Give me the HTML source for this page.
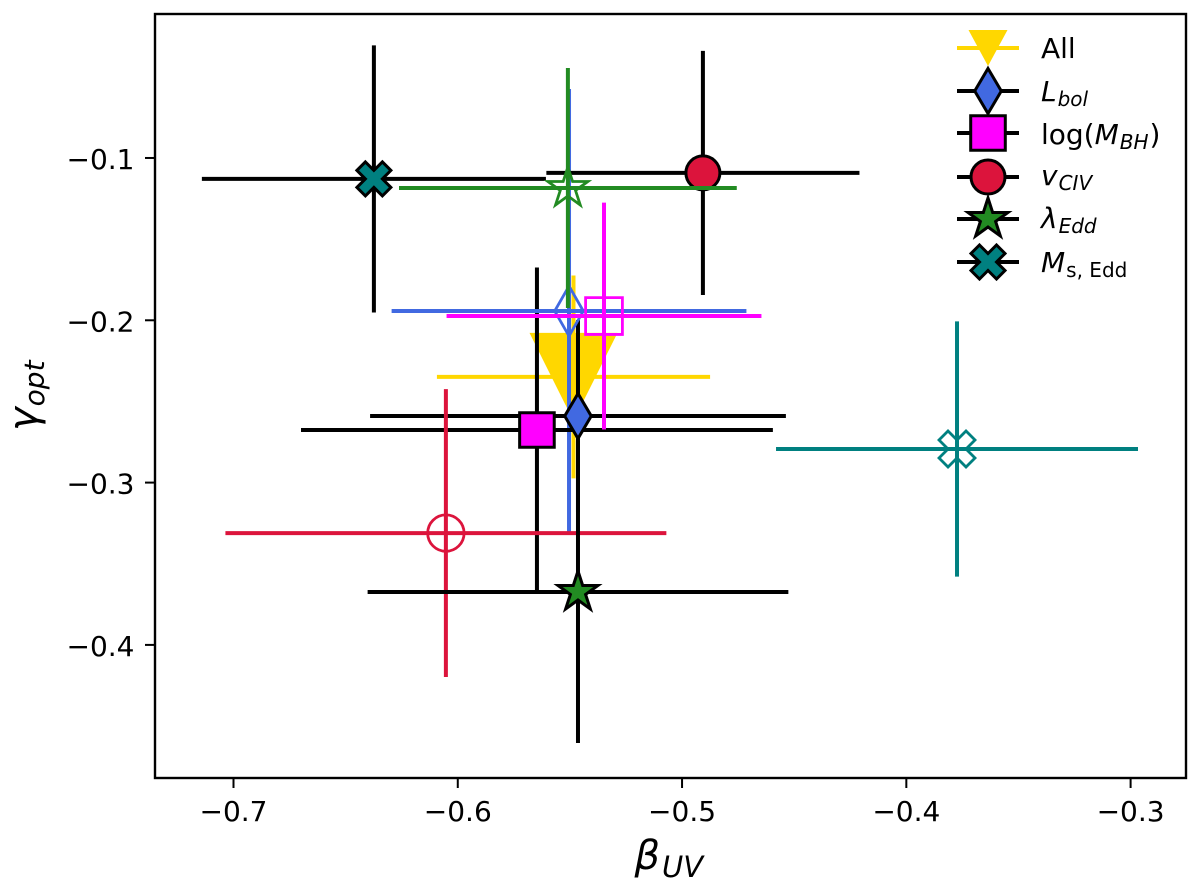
<!DOCTYPE html>
<html lang="en">
<head>
<meta charset="utf-8">
<title>Gamma opt vs Beta UV</title>
<style>
html,body{margin:0;padding:0;background:#fff;}
svg{display:block;font-family:"DejaVu Sans","Liberation Sans",sans-serif;}
text{fill:#000;}
</style>
</head>
<body>
<svg id="chart" width="1200" height="892" viewBox="0 0 1200 892" xmlns="http://www.w3.org/2000/svg"></svg>
<script>
const seriesNames = ["all","l-bol-open","m-bh-open","v-civ-open","lambda-edd-open","m-s-edd-open","m-bh","l-bol","v-civ","lambda-edd","m-s-edd"];
const betaValues  = [-0.5484,-0.5504,-0.5348,-0.6053,-0.5509,-0.3774,-0.5647,-0.5464,-0.4907,-0.5464,-0.6374];
const gammaValues = [-0.2349,-0.1943,-0.1974,-0.3311,-0.1185,-0.2793,-0.2676,-0.2590,-0.1092,-0.3674,-0.1129];
const betaErrors  = [0.0609,0.0791,0.0702,0.0983,0.0753,0.0807,0.1052,0.0927,0.0698,0.0938,0.0767];
const gammaErrors = [0.0625,0.1368,0.0699,0.0887,0.0739,0.0786,0.1001,0.0591,0.0752,0.0930,0.0823];
const seriesColors = ["#ffd700","#4169e1","#ff00ff","#dc143c","#228b22","#008080","#ff00ff","#4169e1","#dc143c","#228b22","#008080"];
const seriesShapes = ["triangle","diamond","square","circle","star","cross","square","diamond","circle","star","cross"];
const seriesFilled = [true,false,false,false,false,false,true,true,true,true,true];
const xTicks = [-0.7,-0.6,-0.5,-0.4,-0.3];
const yTicks = [-0.1,-0.2,-0.3,-0.4];
const xDomain = [-0.735,-0.2753];
const yDomain = [-0.482,-0.0113];
const legendShapes = ["triangle","diamond","square","circle","star","cross"];
const legendColors = ["#ffd700","#4169e1","#ff00ff","#dc143c","#228b22","#008080"];
/* paint order: series index + part (x bar, y bar, marker) */
const paintOrder = ["0x","0y","0m","6y","1y","6x","7x","7y","7m","1x","1m","2x","2y","2m","6m","8x","8y","8m","3x","3y","3m","9x","9y","9m","10x","10y","10m","4x","4y","4m","5x","5y","5m"];

const plot = {left:155,right:1186,top:14,bottom:778};
const NS = "http://www.w3.org/2000/svg";
const svg = document.getElementById("chart");
function xScale(v){return plot.left+(v-xDomain[0])/(xDomain[1]-xDomain[0])*(plot.right-plot.left);}
function yScale(v){return plot.bottom-(v-yDomain[0])/(yDomain[1]-yDomain[0])*(plot.bottom-plot.top);}
function make(tag,attrs,parent){
  const el=document.createElementNS(NS,tag);
  for(const k in attrs){el.setAttribute(k,attrs[k]);}
  (parent||svg).appendChild(el);
  return el;
}
function fmt(v){return "\u2212"+Math.abs(v).toFixed(1);}
function shapePoints(shape,cx,cy,filled,legend){
  if(shape==="triangle"){
    const w=legend?19.5:44,h=legend?18:44;
    return [[cx-w,cy-h],[cx+w,cy-h],[cx,cy+h]];
  }
  if(shape==="diamond"){
    const w=filled?13.3:14.3,h=filled?22.5:25;
    return [[cx,cy-h],[cx+w,cy],[cx,cy+h],[cx-w,cy]];
  }
  if(shape==="square"){
    const s=filled?17.3:18.4;
    return [[cx-s,cy-s],[cx+s,cy-s],[cx+s,cy+s],[cx-s,cy+s]];
  }
  if(shape==="star"){
    const pts=[];
    for(let i=0;i<10;i++){
      const r=i%2===0?21:8,a=-Math.PI/2+i*Math.PI/5;
      pts.push([cx+r*Math.cos(a),cy+r*Math.sin(a)]);
    }
    return pts;
  }
  const u=filled?8.5:9;
  return [[-1,-2],[0,-1],[1,-2],[2,-1],[1,0],[2,1],[1,2],[0,1],[-1,2],[-2,1],[-1,0],[-2,-1]].map(p=>[cx+p[0]*u,cy+p[1]*u]);
}
function drawMarker(shape,cx,cy,filled,color,parent,legend){
  let el;
  if(shape==="circle"){
    el=make("circle",{cx:cx,cy:cy,r:filled?17:18.2},parent);
  }else{
    el=make("polygon",{points:shapePoints(shape,cx,cy,filled,legend).map(p=>p[0].toFixed(2)+","+p[1].toFixed(2)).join(" ")},parent);
  }
  el.setAttribute("fill",filled?color:"none");
  el.setAttribute("stroke",filled?"#000":color);
  el.setAttribute("stroke-width",shape==="triangle"?0:(filled?3:2.8));
  el.setAttribute("stroke-linejoin","miter");
  return el;
}

const bg=make("rect",{x:0,y:0,width:1200,height:892,fill:"#fff"});



/* series */
paintOrder.forEach(function(key){
  const i=parseInt(key,10);
  const part=key.slice(-1);
  const cx=xScale(betaValues[i]),cy=yScale(gammaValues[i]);
  const lineColor=(seriesFilled[i]&&i>0)?"#000":seriesColors[i];
  if(part==="x"){
    const xl=make("line",{x1:xScale(betaValues[i]-betaErrors[i]),x2:xScale(betaValues[i]+betaErrors[i]),y1:cy,y2:cy,stroke:lineColor,"stroke-width":4});
    
    
  }else if(part==="y"){
    const yl=make("line",{x1:cx,x2:cx,y1:yScale(gammaValues[i]-gammaErrors[i]),y2:yScale(gammaValues[i]+gammaErrors[i]),stroke:lineColor,"stroke-width":4});
    
    
  }else{
    const mk=drawMarker(seriesShapes[i],cx,cy,seriesFilled[i],seriesColors[i],svg,false);
    
    
  }
});

/* axes frame */
const frame=make("rect",{x:plot.left,y:plot.top,width:plot.right-plot.left,height:plot.bottom-plot.top,fill:"none",stroke:"#000","stroke-width":2.4});



/* ticks */
xTicks.forEach(function(t){
  const px=xScale(t);
  const tick=make("line",{x1:px,x2:px,y1:plot.bottom,y2:plot.bottom+10,stroke:"#000","stroke-width":2});
  
  
  const lab=make("text",{x:px,y:821,"text-anchor":"middle","font-size":28});
  
  
  lab.textContent=fmt(t);
});
yTicks.forEach(function(t){
  const py=yScale(t);
  const tick=make("line",{x1:plot.left-10,x2:plot.left,y1:py,y2:py,stroke:"#000","stroke-width":2});
  
  
  const lab=make("text",{x:134.5,y:py+11,"text-anchor":"end","font-size":28});
  
  
  lab.textContent=fmt(t);
});

/* axis titles */
function addMath(parent,main,sub,size,subSize,dy,dx,subItalic){
  const a=make("tspan",{"font-style":"italic","font-size":size},parent);
  a.textContent=main;
  const b=make("tspan",{"font-style":subItalic?"italic":"normal","font-size":subSize,dy:dy,dx:dx},parent);
  b.textContent=sub;
}
const xTitle=make("text",{x:634.5,y:869});


addMath(xTitle,"\u03b2","UV",40,29,8,2,true);
const yTitle=make("text",{transform:"translate(37,431) rotate(-90)"});


addMath(yTitle,"\u03b3","opt",40,28,7,1,true);

/* legend */
const legend=make("g",{});


const handleY=[48,91,133,177,219,262];
const baseY=[58,101,144,185,228,272];
legendShapes.forEach(function(shape,i){
  const g=make("g",{},legend);
  
  
  const ln=make("line",{x1:957,x2:1019,y1:handleY[i],y2:handleY[i],stroke:i===0?legendColors[0]:"#000","stroke-width":4},g);
  
  
  const mk=drawMarker(shape,988,handleY[i],true,legendColors[i],g,true);
  
  
  const t=make("text",{x:1041,y:baseY[i],"font-size":28},g);
  
  
  if(i===0){t.textContent="All";}
  if(i===1){addMath(t,"L","bol",28,20,5,1,true);}
  if(i===2){
    const a=make("tspan",{},t);a.textContent="log(";
    const b=make("tspan",{"font-style":"italic"},t);b.textContent="M";
    const c=make("tspan",{"font-style":"italic","font-size":20,dy:5,dx:1},t);c.textContent="BH";
    const d=make("tspan",{dy:-5,dx:1},t);d.textContent=")";
  }
  if(i===3){addMath(t,"v","CIV",28,20,5,1,true);}
  if(i===4){addMath(t,"\u03bb","Edd",28,20,5,1,true);}
  if(i===5){addMath(t,"M","s, Edd",28,20,5,1,false);}
});
</script>
</body>
</html>
